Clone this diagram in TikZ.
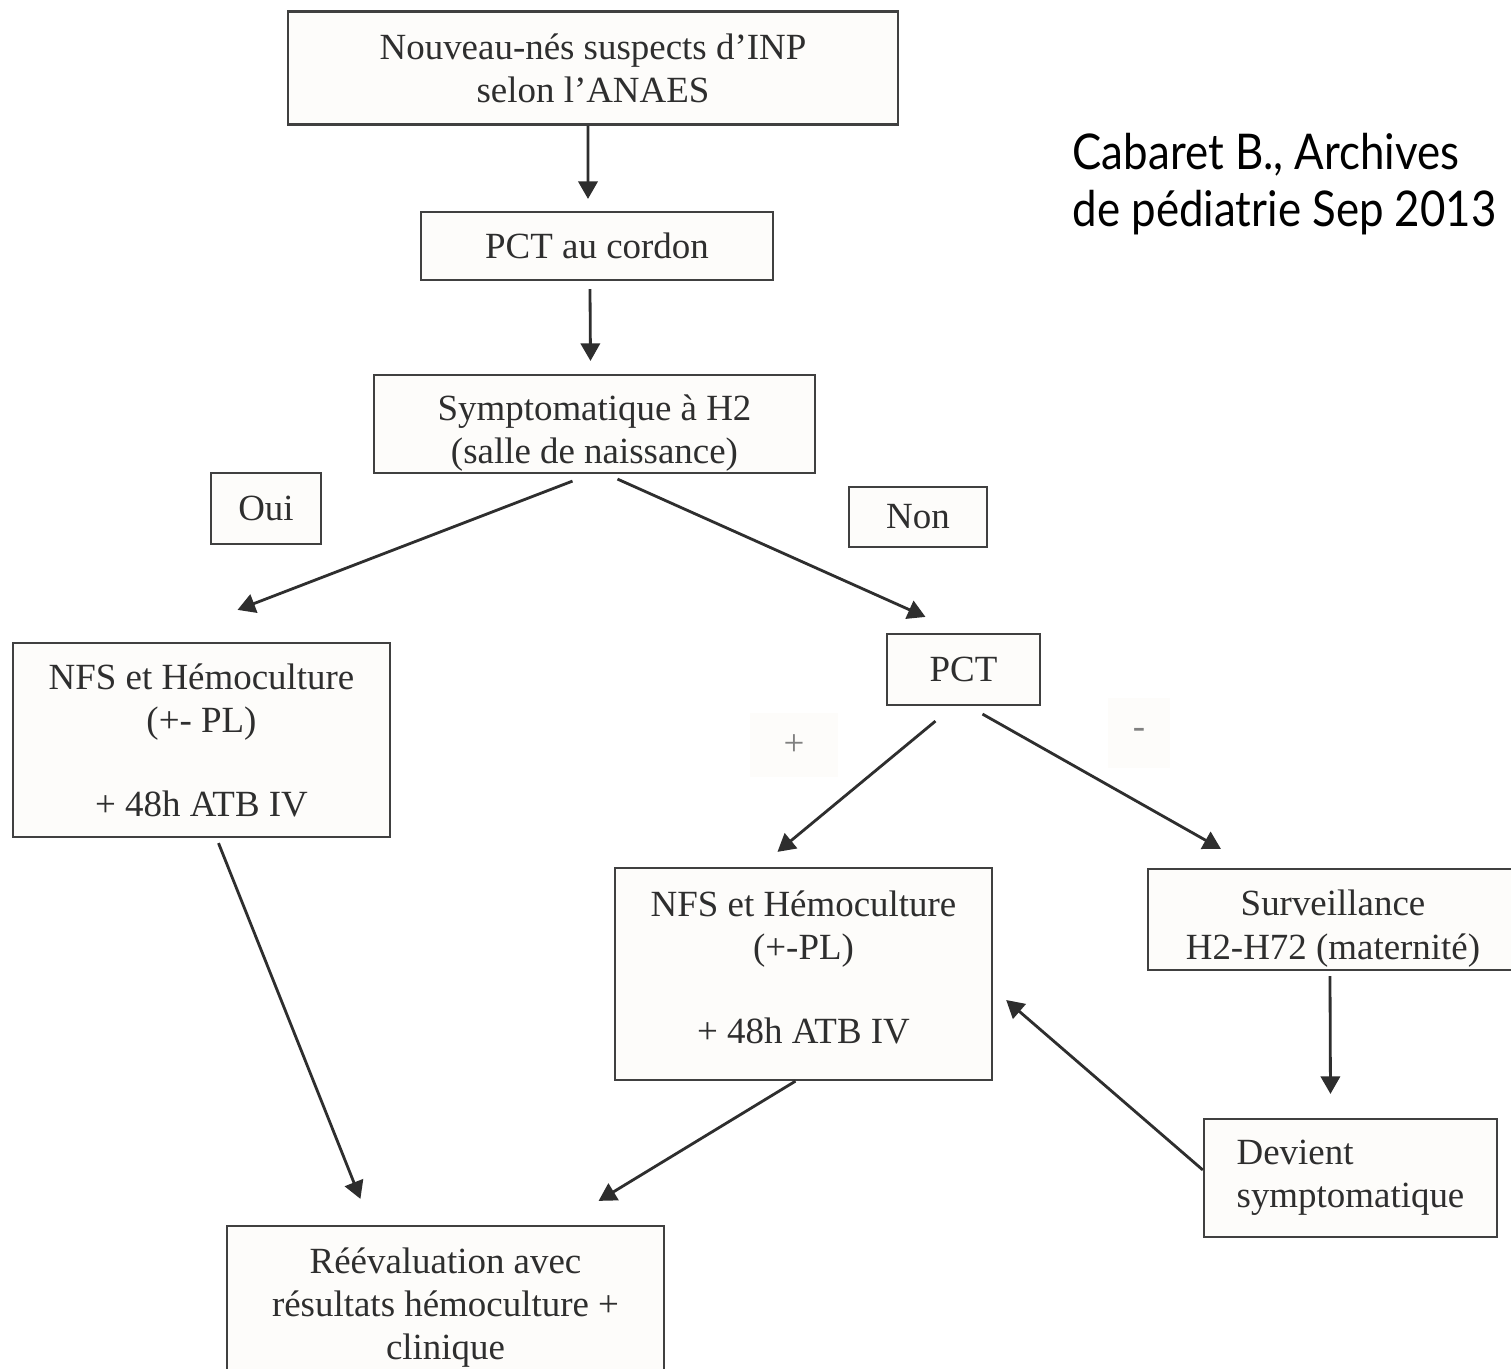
\documentclass[tikz,border=0pt]{standalone}
\usepackage{fontspec}
\setmainfont{Liberation Serif}
\newfontfamily\citefont[FakeStretch=0.89]{Lato}
\usetikzlibrary{arrows.meta}
\definecolor{ink}{HTML}{2E2E2E}
\definecolor{edge}{HTML}{404040}
\definecolor{paper}{HTML}{FDFCFA}
\tikzset{
  box/.style={draw=edge, line width=0.6pt, fill=paper, text=ink, inner sep=0pt,
    align=center, font=\fontsize{10.5}{12.3}\selectfont},
  tag/.style={fill=paper, text=gray, inner sep=0pt, font=\fontsize{10.5}{12}\selectfont},
  arr/.style={draw=ink, line width=0.8pt, -{Triangle[length=5pt, width=5.5pt]}}
}
\begin{document}
\begin{tikzpicture}[x=0.01cm, y=-0.01cm]
      \clip (0,0) rectangle (1511,1369);
      \fill[white] (0,0) rectangle (1511,1369);
      % Boxes:
      \node[box, minimum width=6.1cm, minimum height=1.13cm] (top) at (593,68) {Nouveau-nés suspects d’INP\\selon l’ANAES};
      \node[box, minimum width=3.52cm, minimum height=0.68cm] (cord) at (597,246) {PCT au cordon};
      \node[box, minimum width=4.41cm, minimum height=0.98cm] (symp) at (594.5,424) {\rule{0pt}{12.5pt}Symptomatique à H2\\(salle de naissance)};
      \node[box, minimum width=1.10cm, minimum height=0.71cm] (oui) at (266,508.5) {Oui};
      \node[box, minimum width=1.38cm, minimum height=0.60cm] (non) at (918,517) {Non};
      \node[box, minimum width=3.77cm, minimum height=1.94cm] (nfsL) at (201.5,740) {NFS et Hémoculture\\(+- PL)\\[11.5pt]+ 48h ATB IV};
      \node[box, minimum width=1.53cm, minimum height=0.71cm] (pct) at (963.5,669.5) {PCT};
      \node[tag, minimum width=0.88cm, minimum height=0.64cm] (plus) at (794,745) {+};
      \node[tag, minimum width=0.62cm, minimum height=0.70cm] (minus) at (1139,733) {-};
      \node[box, minimum width=3.77cm, minimum height=2.12cm] (nfsM) at (803.5,974) {NFS et Hémoculture\\(+-PL)\\[11.5pt]+ 48h ATB IV\rule[-4pt]{0pt}{0pt}};
      \node[box, minimum width=3.70cm, minimum height=1.01cm] (surv) at (1333,919.5) {\rule{0pt}{12.5pt}Surveillance\\H2-H72 (maternité)};
      \node[box, align=left, minimum width=2.93cm, minimum height=1.18cm] (dev) at (1350.5,1178) {Devient\\symptomatique};
      \node[box, minimum width=4.37cm, minimum height=1.54cm] (reev) at (445.5,1303) {\rule{0pt}{10pt}Réévaluation avec\\résultats hémoculture +\\clinique};
      \node[anchor=west, align=left, text=black, inner sep=0pt, font=\citefont\fontsize{14}{16.2}\selectfont] (cite) at (1072,184) {Cabaret B., Archives\\de pédiatrie Sep 2013};
      % Arrows:
      \draw[arr] ([xshift=-0.05cm]top.south) -- ([xshift=-0.09cm, yshift=0.12cm]cord.north);
      \draw[arr] ([xshift=-0.07cm, yshift=-0.08cm]cord.south) -- ([xshift=-0.04cm, yshift=0.13cm]symp.north);
      \draw[arr] ([xshift=-0.22cm, yshift=-0.07cm]symp.south) -- ([xshift=0.36cm, yshift=0.32cm]nfsL.north);
      \draw[arr] ([xshift=0.23cm, yshift=-0.05cm]symp.south) -- ([xshift=-0.38cm, yshift=0.16cm]pct.north);
      \draw[arr] ([xshift=-0.28cm, yshift=-0.15cm]pct.south) -- ([xshift=-0.26cm, yshift=0.15cm]nfsM.north);
      \draw[arr] ([xshift=0.19cm, yshift=-0.08cm]pct.south) -- ([xshift=-1.12cm, yshift=0.19cm]surv.north);
      \draw[arr] ([xshift=-0.03cm, yshift=-0.05cm]surv.south) -- ([xshift=-0.2cm, yshift=0.24cm]dev.north);
      \draw[arr] ([yshift=0.08cm]dev.west) -- ([xshift=0.13cm, yshift=-0.26cm]nfsM.east);
      \draw[arr] ([xshift=0.17cm, yshift=-0.05cm]nfsL.south) -- ([xshift=-0.85cm, yshift=0.26cm]reev.north);
      \draw[arr] ([xshift=-0.08cm]nfsM.south) -- ([xshift=1.53cm, yshift=0.24cm]reev.north);
    \end{tikzpicture}
\end{document}
